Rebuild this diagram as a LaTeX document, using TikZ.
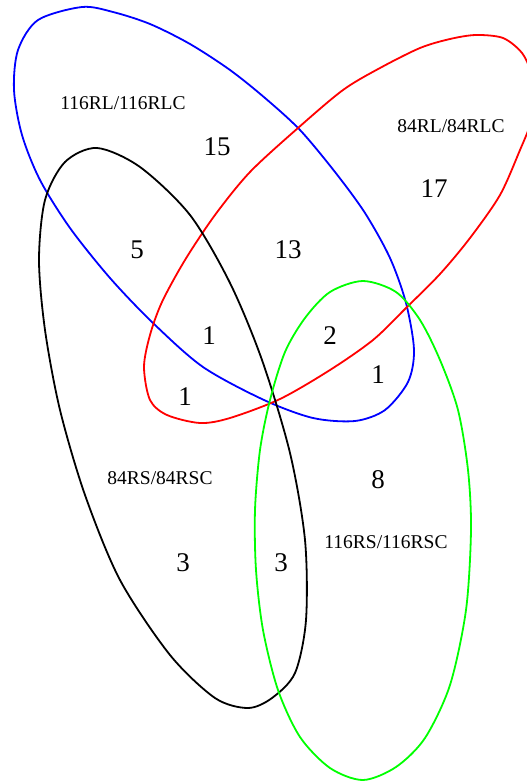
\documentclass[tikz,border=0pt]{standalone}
\usepackage{fontspec}
\setmainfont{Liberation Serif}
\usepackage{tikz}

\begin{document}
\begin{tikzpicture}[x=1pt, y=-1pt, line width=1.8pt, line join=round,
    setname/.style={font=\fontsize{19.5}{22}\selectfont},
    count/.style={font=\fontsize{27}{30}\selectfont}]
      \useasboundingbox (0,0) rectangle (527,784);
      \clip (0,0) rectangle (527,784);

      % the four sets
      \draw[blue] plot[smooth cycle] coordinates {(82,7) (113,12) (150,24) (190,44) (230,70) (265,98) (300,130) (335,172) (365,213) (390,258) (406,303) (414,350) (408,382) (385,410) (355,421) (313,418) (264,400) (203,367) (153,323) (110,278) (70,228) (40,180) (22,135) (14,90) (18,50) (38,20)};
      \draw[red] plot[smooth cycle] coordinates {(476,35) (503,38) (522,53) (532,75) (535,100) (530,125) (520,150) (500,195) (470,238) (440,274) (406,308) (373,340) (330,370) (280,399) (230,418) (200,423) (167,415) (150,400) (144,367) (150,335) (162,302) (185,260) (215,215) (250,172) (298,128) (343,90) (380,68) (420,48) (450,39)};
      \draw[black] plot[smooth cycle] coordinates {(97,148) (140,167) (190,215) (230,283) (262,360) (290,453) (305,540) (306,620) (295,673) (272,698) (248,708) (215,698) (170,655) (120,580) (85,495) (60,410) (45,330) (39,260) (45,200) (65,162)};
      \draw[green] plot[smooth cycle] coordinates {(363,281) (396,292) (420,320) (440,360) (458,410) (468,470) (471,530) (466,610) (450,685) (425,738) (396,767) (363,780) (330,768) (300,737) (278,690) (263,630) (256,570) (255,510) (260,450) (270,400) (285,352) (305,318) (330,292)};

      % set names
      \node[setname] (rl116) at (123,103) {116RL/116RLC};
      \node[setname] (rl84) at (451,126) {84RL/84RLC};
      \node[setname] (rs84) at (160,478) {84RS/84RSC};
      \node[setname] (rs116) at (386,542) {116RS/116RSC};

      % counts
      \node[count] (nA) at (217,147) {15};
      \node[count] (nB) at (434,189) {17};
      \node[count] (nC) at (137,250) {5};
      \node[count] (nD) at (288,250) {13};
      \node[count] (nE) at (209,336) {1};
      \node[count] (nF) at (330,336) {2};
      \node[count] (nG) at (378,375) {1};
      \node[count] (nH) at (185,397) {1};
      \node[count] (nI) at (378,480) {8};
      \node[count] (nJ) at (183,563) {3};
      \node[count] (nK) at (281,563) {3};
    \end{tikzpicture}
\end{document}
